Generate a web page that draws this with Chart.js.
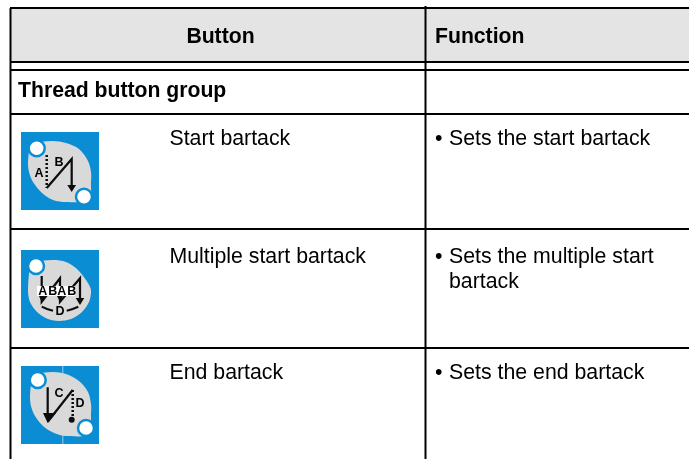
<!DOCTYPE html>
<html>
<head>
<meta charset="utf-8">
<script src="https://cdn.jsdelivr.net/npm/chart.js"></script>
<style>
  html, body { margin: 0; padding: 0; background: #fff; overflow: hidden; }
  canvas { display: block; }
</style>
</head>
<body>
<canvas id="tableChart" width="689" height="459"></canvas>
<script>
// table rules, in page units
let rowRules = [8, 62, 70, 114, 229, 348];
let colRules = [10.5, 425.5];

// table text
let headerLabels = ["Button", "Function"];
let groupLabel = "Thread button group";
let buttonNames = ["Start bartack", "Multiple start bartack", "End bartack"];
let functionLines = [["Sets the start bartack"], ["Sets the multiple start", "bartack"], ["Sets the end bartack"]];
let rowTextY = [139, 257, 373];

// icon corners (top left of each blue square)
let iconX = [21, 21, 21];
let iconY = [132, 250, 366];

// icon outlines, relative to the corner
let leafBlob = [[9,11],[32,9],[45,11],[58,17],[67,29],[70,40],[70,50],[68,68],[45,70],[32,68],[21,61],[12,50],[8,40],[7,30],[9,11]];
let roundBlob = [[9,12],[32,10],[45,12],[56,19],[65,30],[70,40],[68,52],[61,62],[50,69],[38,71],[27,69],[16,62],[9,52],[7,40],[9,12]];
let endBlob = [[11,8],[32,6],[45,8],[58,15],[67,26],[70,38],[70,48],[68,68],[45,70],[33,67],[22,60],[14,50],[10,40],[9,30],[11,8]];

let startSolid = [[25.7,56],[50.7,27],[50.7,55]];
let startDotted = [[25.7,23],[25.7,56]];
let startHead = [[46.3,53],[55.1,53],[50.7,60]];
let startCircles = [[15.7,16.3],[63,64.7]];
let startLetters = [["A",18,42],["B",38,31]];

let multiSolid = [[20.7,26],[20.7,51.7],[39,28.3],[39,51.7],[59,28.3],[59,50]];
let multiBand = [[16,41],[54,41]];
let multiHead = [[54.7,48],[63.3,48],[59,55]];
let multiHeadA = [[18,46],[24,46],[20.7,52]];
let multiHeadB = [[36,46],[42,46],[39,52]];
let multiArcL = [[20.7,56.7],[26,59],[32,60.7]];
let multiArcR = [[45.7,60.7],[51.7,59],[57.3,56.7]];
let multiCircles = [[15,16]];
let multiLetters = [["A",21.7,42],["B",31.7,42],["A",40.7,42],["B",50.7,42],["D",39,62]];

let endSolid = [[26.7,21.3],[26.7,50]];
let endDiag = [[26.7,55.7],[51.7,24]];
let endDotted = [[51.7,24],[51.7,53]];
let endHead = [[22,47],[35,47],[26.7,57]];
let endDot = [[50.7,53.7]];
let endSeam = [[41.7,0],[41.7,78]];
let endCircles = [[16.7,14],[65,62]];
let endLetters = [["C",38,28],["D",59,38]];

let blue = "#0a8dd3";
let grey = "#d9d9d9";
let ink = "#0c0c0c";
let datasets = [];

function toXY(pts, ox, oy) {
  return pts.map(p => ({ x: ox + p[0], y: oy + p[1] }));
}

function addLine(pts, ox, oy, width, color, dash) {
  datasets.push({
    data: toXY(pts, ox, oy),
    showLine: true,
    borderColor: color,
    borderWidth: width,
    borderDash: dash || [],
    pointRadius: 0,
    fill: false,
    order: -datasets.length
  });
}

function addShape(pts, ox, oy, color, tension) {
  datasets.push({
    data: toXY(pts, ox, oy),
    showLine: true,
    tension: tension || 0,
    borderColor: color,
    borderWidth: 0,
    backgroundColor: color,
    pointRadius: 0,
    fill: "shape",
    order: -datasets.length
  });
}

function addCircles(pts, ox, oy) {
  datasets.push({
    data: toXY(pts, ox, oy),
    showLine: false,
    pointRadius: 8,
    pointBackgroundColor: "#fff",
    pointBorderColor: blue,
    pointBorderWidth: 2.5,
    order: -datasets.length
  });
}

// header band
addShape([[10,8],[689,8],[689,62],[10,62],[10,8]], 0, 0, "#e4e4e4");

// rules
rowRules.forEach(y => addLine([[10,y],[689,y]], 0, 0, 2, "#000"));
addLine([[colRules[0],8],[colRules[0],459]], 0, 0, 2, "#000");
addLine([[colRules[1],6],[colRules[1],459]], 0, 0, 2, "#000");

// blue squares
iconX.forEach((x, i) => addShape([[0,0],[78,0],[78,78],[0,78],[0,0]], x, iconY[i], blue));

// start bartack
addShape(leafBlob, iconX[0], iconY[0], grey, 0.3);
addLine(startDotted, iconX[0], iconY[0], 2.5, ink, [2, 2]);
addLine(startSolid, iconX[0], iconY[0], 2.2, ink);
addShape(startHead, iconX[0], iconY[0], ink);
addCircles(startCircles, iconX[0], iconY[0]);

// multiple start bartack
addShape(roundBlob, iconX[1], iconY[1], grey, 0.3);
addLine(multiSolid, iconX[1], iconY[1], 2.2, ink);
addShape(multiHead, iconX[1], iconY[1], ink);
addShape(multiHeadA, iconX[1], iconY[1], ink);
addShape(multiHeadB, iconX[1], iconY[1], ink);
addLine(multiBand, iconX[1], iconY[1], 10, "#fff");
addLine(multiArcL, iconX[1], iconY[1], 2, ink);
addLine(multiArcR, iconX[1], iconY[1], 2, ink);
addCircles(multiCircles, iconX[1], iconY[1]);

// end bartack
addLine(endSeam, iconX[2], iconY[2], 1, "#6bb8e4");
addShape(endBlob, iconX[2], iconY[2], grey, 0.3);
addLine(endSolid, iconX[2], iconY[2], 2.2, ink);
addLine(endDiag, iconX[2], iconY[2], 2.2, ink);
addLine(endDotted, iconX[2], iconY[2], 2.5, ink, [2, 2]);
addShape(endHead, iconX[2], iconY[2], ink);
datasets.push({
  data: toXY(endDot, iconX[2], iconY[2]),
  showLine: false,
  pointRadius: 3,
  pointBackgroundColor: ink,
  pointBorderWidth: 0,
  order: -datasets.length
});
addCircles(endCircles, iconX[2], iconY[2]);

let tableText = {
  id: "tableText",
  afterDatasetsDraw(chart) {
    let ctx = chart.ctx;
    let sx = chart.scales.x;
    let sy = chart.scales.y;
    let put = (text, x, y, font, align) => {
      ctx.font = font;
      ctx.textAlign = align || "left";
      ctx.textBaseline = "middle";
      ctx.fillStyle = "#000";
      ctx.fillText(text, sx.getPixelForValue(x), sy.getPixelForValue(y));
    };
    let bold = 'bold 21.2px "Liberation Sans"';
    let body = '21.3px "Liberation Sans"';
    let small = 'bold 12.5px "Liberation Sans"';

    put(headerLabels[0], 220.5, 37, bold, "center");
    put(headerLabels[1], 435, 37, bold);
    put(groupLabel, 18, 91, bold);

    buttonNames.forEach((name, i) => {
      put(name, 169.5, rowTextY[i], body);
      put("\u2022", 435, rowTextY[i], body);
      functionLines[i].forEach((line, j) => put(line, 449, rowTextY[i] + j * 25, body));
    });

    [startLetters, multiLetters, endLetters].forEach((letters, i) => {
      letters.forEach(l => put(l[0], iconX[i] + l[1], iconY[i] + l[2], small, "center"));
    });
  }
};

new Chart(document.getElementById("tableChart"), {
  type: "scatter",
  data: { datasets: datasets },
  plugins: [tableText],
  options: {
    responsive: false,
    animation: false,
    layout: { padding: 0, autoPadding: false },
    plugins: { legend: { display: false }, tooltip: { enabled: false } },
    scales: {
      x: { type: "linear", min: 0, max: 689, display: false },
      y: { type: "linear", min: 0, max: 459, reverse: true, display: false }
    }
  }
});
</script>
</body>
</html>
